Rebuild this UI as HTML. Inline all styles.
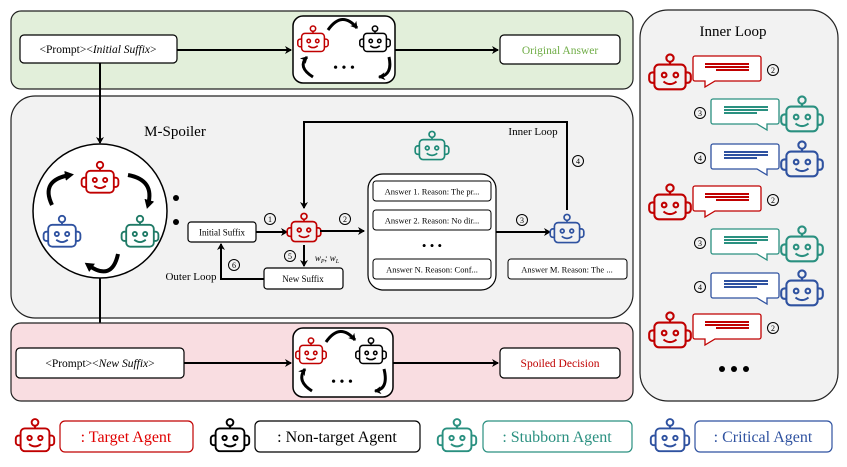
<!DOCTYPE html>
<html><head><meta charset="utf-8"><style>
html,body{margin:0;padding:0;background:#fff;}
svg{display:block;font-family:"Liberation Serif",serif;}
</style></head><body>
<svg width="847" height="467" viewBox="0 0 847 467" xmlns="http://www.w3.org/2000/svg">
<defs>
<g id="bot" fill="none" stroke-width="1.6">
<circle cx="0" cy="-13" r="2.8"/>
<line x1="0" y1="-10.2" x2="0" y2="-8"/>
<rect x="-12" y="-8" width="24" height="19" rx="3.5"/>
<path d="M-12,-2 h-1.5 a2.5,2.5 0 0 0 -2.5,2.5 v3 a2.5,2.5 0 0 0 2.5,2.5 h1.5"/>
<path d="M12,-2 h1.5 a2.5,2.5 0 0 1 2.5,2.5 v3 a2.5,2.5 0 0 1 -2.5,2.5 h-1.5"/>
<circle cx="-4.5" cy="0" r="1.8"/>
<circle cx="4.5" cy="0" r="1.8"/>
<path d="M-5,5 Q0,9 5,5"/>
</g>
<marker id="ah" markerWidth="8" markerHeight="8" refX="6" refY="4" orient="auto" markerUnits="userSpaceOnUse">
<path d="M0,0 L7,4 L0,8 L2,4 z" fill="#000"/>
</marker>
<marker id="ahb" markerWidth="10" markerHeight="10" refX="5" refY="5" orient="auto" markerUnits="userSpaceOnUse">
<path d="M0,0 L9,5 L0,10 z" fill="#000"/>
</marker>
</defs>

<!-- green region -->
<rect x="11" y="11" width="622" height="78" rx="10" fill="#e2efda" stroke="#222" stroke-width="1.2"/>
<rect x="20" y="35" width="157" height="28" rx="4" fill="#fff" stroke="#000" stroke-width="1.2"/>
<text x="98" y="53" font-size="11.5" text-anchor="middle">&lt;Prompt&gt;&lt;<tspan font-style="italic">Initial Suffix</tspan>&gt;</text>
<line x1="177" y1="50" x2="291" y2="50" stroke="#000" stroke-width="2" marker-end="url(#ah)"/>
<line x1="395" y1="50" x2="498" y2="50" stroke="#000" stroke-width="2" marker-end="url(#ah)"/>
<rect x="500" y="35" width="120" height="29" rx="4" fill="#fff" stroke="#000" stroke-width="1.2"/>
<text x="560" y="54" font-size="11.5" text-anchor="middle" fill="#70ad47">Original Answer</text>
<g>
<rect x="293" y="16" width="102" height="67" rx="10" fill="#fff" stroke="#000" stroke-width="1.5"/>
<use href="#bot" stroke="#c00000" transform="translate(313,41) scale(0.95)"/>
<use href="#bot" stroke="#000" transform="translate(375,41) scale(0.95)"/>
<path d="M328,30 Q342,10 357,28" fill="none" stroke="#000" stroke-width="3" marker-end="url(#ah)"/>
<path d="M313,77 Q297,67 307,57" fill="none" stroke="#000" stroke-width="3" marker-end="url(#ah)"/>
<path d="M389,57 Q393,75 379,77" fill="none" stroke="#000" stroke-width="3" marker-end="url(#ah)"/>
<text x="344" y="72" font-size="14" text-anchor="middle">• • •</text>
</g>

<!-- M-Spoiler region -->
<rect x="11" y="96" width="622" height="222" rx="24" fill="#f2f2f2" stroke="#222" stroke-width="1.2"/>
<line x1="100" y1="63" x2="100" y2="143" stroke="#000" stroke-width="2" marker-end="url(#ah)"/>
<line x1="100" y1="277" x2="100" y2="346" stroke="#000" stroke-width="2" marker-end="url(#ah)"/>
<circle cx="100" cy="211" r="67" fill="#fff" stroke="#000" stroke-width="1.5"/>
<use href="#bot" stroke="#c00000" transform="translate(100,180) scale(1.15)"/>
<use href="#bot" stroke="#2f52a0" transform="translate(62,234) scale(1.15)"/>
<use href="#bot" stroke="#1f7a66" transform="translate(140,234) scale(1.15)"/>
<path d="M52,205 Q40,180 70,175" fill="none" stroke="#000" stroke-width="4" marker-end="url(#ahb)"/>
<path d="M128,175 Q155,180 148,205" fill="none" stroke="#000" stroke-width="4" marker-end="url(#ahb)"/>
<path d="M118,254 Q112,282 88,265" fill="none" stroke="#000" stroke-width="4" marker-end="url(#ahb)"/>
<text x="175" y="136" font-size="15" text-anchor="middle">M-Spoiler</text>
<circle cx="176" cy="198" r="3" fill="#000"/>
<circle cx="176" cy="222" r="3" fill="#000"/>

<rect x="188" y="222" width="68" height="20" rx="3" fill="#fff" stroke="#000" stroke-width="1.2"/>
<text x="222" y="235.5" font-size="9" text-anchor="middle">Initial Suffix</text>
<line x1="256" y1="232" x2="287" y2="232" stroke="#000" stroke-width="2" marker-end="url(#ah)"/>
<use href="#bot" stroke="#c00000" transform="translate(304,230) scale(1.05)"/>
<line x1="320" y1="231" x2="364" y2="231" stroke="#000" stroke-width="2" marker-end="url(#ah)"/>
<line x1="304" y1="245" x2="304" y2="266" stroke="#000" stroke-width="2" marker-end="url(#ah)"/>
<rect x="264" y="268" width="79" height="21" rx="3" fill="#fff" stroke="#000" stroke-width="1.2"/>
<text x="303" y="282" font-size="9" text-anchor="middle">New Suffix</text>
<polyline points="264,279 221,279 221,244" fill="none" stroke="#000" stroke-width="2" marker-end="url(#ah)"/>
<text x="191" y="280" font-size="11" text-anchor="middle">Outer Loop</text>
<text x="327" y="261" font-size="9" font-style="italic" text-anchor="middle">w<tspan font-size="6" dy="2">P</tspan><tspan dy="-2">; w</tspan><tspan font-size="6" dy="2">L</tspan></text>
<polyline points="567,210 567,122 304,122 304,208" fill="none" stroke="#000" stroke-width="2" marker-end="url(#ah)"/>
<text x="533" y="135" font-size="11" text-anchor="middle">Inner Loop</text>

<g font-size="8" text-anchor="middle" fill="none" stroke="#000" stroke-width="1">
<circle cx="270" cy="219" r="5.5"/><circle cx="345" cy="219" r="5.5"/><circle cx="522" cy="220" r="5.5"/>
<circle cx="578" cy="161" r="5.5"/><circle cx="290" cy="256" r="5.5"/><circle cx="234" cy="265" r="5.5"/>
</g>
<g font-size="8" text-anchor="middle">
<text x="270" y="222">1</text><text x="345" y="222">2</text><text x="522" y="223">3</text>
<text x="578" y="164">4</text><text x="290" y="259">5</text><text x="234" y="268">6</text>
</g>

<use href="#bot" stroke="#1f8a78" transform="translate(432,148) scale(1.05)"/>
<rect x="368" y="174" width="128" height="116" rx="15" fill="#fff" stroke="#000" stroke-width="1.2"/>
<g font-size="8.5">
<rect x="373" y="181" width="118" height="20" rx="3" fill="#fff" stroke="#000"/>
<text x="432" y="194.5" text-anchor="middle">Answer 1. Reason: The pr...</text>
<rect x="373" y="210" width="118" height="20" rx="3" fill="#fff" stroke="#000"/>
<text x="432" y="223.5" text-anchor="middle">Answer 2. Reason: No dir...</text>
<rect x="373" y="259" width="118" height="20" rx="3" fill="#fff" stroke="#000"/>
<text x="432" y="272.5" text-anchor="middle">Answer N. Reason:  Conf...</text>
<rect x="508" y="259" width="119" height="20" rx="3" fill="#fff" stroke="#000"/>
<text x="567" y="272.5" text-anchor="middle">Answer M. Reason: The ...</text>
</g>
<text x="432" y="250" font-size="13" text-anchor="middle">• • •</text>
<line x1="496" y1="232" x2="550" y2="232" stroke="#000" stroke-width="2" marker-end="url(#ah)"/>
<use href="#bot" stroke="#2f52a0" transform="translate(567,231) scale(1.05)"/>

<!-- pink region -->
<rect x="11" y="323" width="622" height="78" rx="10" fill="#f9dde1" stroke="#222" stroke-width="1.2"/>
<rect x="16" y="348" width="168" height="30" rx="4" fill="#fff" stroke="#000" stroke-width="1.2"/>
<text x="100" y="367" font-size="11.5" text-anchor="middle">&lt;Prompt&gt;&lt;<tspan font-style="italic">New Suffix</tspan>&gt;</text>
<line x1="184" y1="363" x2="291" y2="363" stroke="#000" stroke-width="2" marker-end="url(#ah)"/>
<line x1="393" y1="363" x2="498" y2="363" stroke="#000" stroke-width="2" marker-end="url(#ah)"/>
<rect x="500" y="348" width="120" height="30" rx="4" fill="#fff" stroke="#000" stroke-width="1.2"/>
<text x="560" y="367" font-size="11.5" text-anchor="middle" fill="#c00000">Spoiled Decision</text>
<g>
<rect x="293" y="328" width="100" height="69" rx="10" fill="#fff" stroke="#000" stroke-width="1.5"/>
<use href="#bot" stroke="#c00000" transform="translate(311,353) scale(0.95)"/>
<use href="#bot" stroke="#000" transform="translate(371,353) scale(0.95)"/>
<path d="M326,342 Q340,322 355,340" fill="none" stroke="#000" stroke-width="3" marker-end="url(#ah)"/>
<path d="M312,391 Q296,381 305,369" fill="none" stroke="#000" stroke-width="3" marker-end="url(#ah)"/>
<path d="M384,369 Q389,389 375,391" fill="none" stroke="#000" stroke-width="3" marker-end="url(#ah)"/>
<text x="342" y="386" font-size="14" text-anchor="middle">• • •</text>
</g>

<!-- right panel -->
<rect x="640" y="10" width="198" height="391" rx="28" fill="#f2f2f2" stroke="#222" stroke-width="1.2"/>
<text x="733" y="36" font-size="15" text-anchor="middle">Inner Loop</text>

<g stroke-width="1.3">
<g transform="translate(0,0)">
<use href="#bot" stroke="#c00000" transform="translate(670,75) scale(1.3)"/>
<path d="M695,56 h64 a2,2 0 0 1 2,2 v21 a2,2 0 0 1 -2,2 h-44 l-10,6 v-6 h-10 a2,2 0 0 1 -2,-2 v-21 a2,2 0 0 1 2,-2z" fill="#fff" stroke="#c00000"/>
<rect x="705" y="63" width="44" height="2" fill="#c00000"/><rect x="705" y="66" width="44" height="2" fill="#c00000"/><rect x="716" y="69" width="33" height="2" fill="#c00000"/>
<circle cx="773" cy="70" r="5.5" fill="none" stroke="#000" stroke-width="1"/><text x="773" y="73" font-size="8" text-anchor="middle">2</text>
</g>
<g transform="translate(0,130)">
<use href="#bot" stroke="#c00000" transform="translate(670,75) scale(1.3)"/>
<path d="M695,56 h64 a2,2 0 0 1 2,2 v21 a2,2 0 0 1 -2,2 h-44 l-10,6 v-6 h-10 a2,2 0 0 1 -2,-2 v-21 a2,2 0 0 1 2,-2z" fill="#fff" stroke="#c00000"/>
<rect x="705" y="63" width="44" height="2" fill="#c00000"/><rect x="705" y="66" width="44" height="2" fill="#c00000"/><rect x="716" y="69" width="33" height="2" fill="#c00000"/>
<circle cx="773" cy="70" r="5.5" fill="none" stroke="#000" stroke-width="1"/><text x="773" y="73" font-size="8" text-anchor="middle">2</text>
</g>
<g transform="translate(0,258)">
<use href="#bot" stroke="#c00000" transform="translate(670,75) scale(1.3)"/>
<path d="M695,56 h64 a2,2 0 0 1 2,2 v21 a2,2 0 0 1 -2,2 h-44 l-10,6 v-6 h-10 a2,2 0 0 1 -2,-2 v-21 a2,2 0 0 1 2,-2z" fill="#fff" stroke="#c00000"/>
<rect x="705" y="63" width="44" height="2" fill="#c00000"/><rect x="705" y="66" width="44" height="2" fill="#c00000"/><rect x="716" y="69" width="33" height="2" fill="#c00000"/>
<circle cx="773" cy="70" r="5.5" fill="none" stroke="#000" stroke-width="1"/><text x="773" y="73" font-size="8" text-anchor="middle">2</text>
</g>
<g transform="translate(0,0)">
<use href="#bot" stroke="#2a9080" transform="translate(802,117) scale(1.3)"/>
<path d="M713,99 h64 a2,2 0 0 1 2,2 v21 a2,2 0 0 1 -2,2 h-10 v6 l-10,-6 h-44 a2,2 0 0 1 -2,-2 v-21 a2,2 0 0 1 2,-2z" fill="#fff" stroke="#2a9080"/>
<rect x="724" y="106" width="44" height="2" fill="#2a9080"/><rect x="724" y="109" width="44" height="2" fill="#2a9080"/><rect x="724" y="112" width="33" height="2" fill="#2a9080"/>
<circle cx="700" cy="113" r="5.5" fill="none" stroke="#000" stroke-width="1"/><text x="700" y="116" font-size="8" text-anchor="middle">3</text>
</g>
<g transform="translate(0,130)">
<use href="#bot" stroke="#2a9080" transform="translate(802,117) scale(1.3)"/>
<path d="M713,99 h64 a2,2 0 0 1 2,2 v21 a2,2 0 0 1 -2,2 h-10 v6 l-10,-6 h-44 a2,2 0 0 1 -2,-2 v-21 a2,2 0 0 1 2,-2z" fill="#fff" stroke="#2a9080"/>
<rect x="724" y="106" width="44" height="2" fill="#2a9080"/><rect x="724" y="109" width="44" height="2" fill="#2a9080"/><rect x="724" y="112" width="33" height="2" fill="#2a9080"/>
<circle cx="700" cy="113" r="5.5" fill="none" stroke="#000" stroke-width="1"/><text x="700" y="116" font-size="8" text-anchor="middle">3</text>
</g>
<g transform="translate(0,0)">
<use href="#bot" stroke="#2f52a0" transform="translate(802,162) scale(1.3)"/>
<path d="M713,144 h64 a2,2 0 0 1 2,2 v21 a2,2 0 0 1 -2,2 h-10 v6 l-10,-6 h-44 a2,2 0 0 1 -2,-2 v-21 a2,2 0 0 1 2,-2z" fill="#fff" stroke="#2f52a0"/>
<rect x="724" y="151" width="44" height="2" fill="#2f52a0"/><rect x="724" y="154" width="44" height="2" fill="#2f52a0"/><rect x="724" y="157" width="33" height="2" fill="#2f52a0"/>
<circle cx="700" cy="158" r="5.5" fill="none" stroke="#000" stroke-width="1"/><text x="700" y="161" font-size="8" text-anchor="middle">4</text>
</g>
<g transform="translate(0,129)">
<use href="#bot" stroke="#2f52a0" transform="translate(802,162) scale(1.3)"/>
<path d="M713,144 h64 a2,2 0 0 1 2,2 v21 a2,2 0 0 1 -2,2 h-10 v6 l-10,-6 h-44 a2,2 0 0 1 -2,-2 v-21 a2,2 0 0 1 2,-2z" fill="#fff" stroke="#2f52a0"/>
<rect x="724" y="151" width="44" height="2" fill="#2f52a0"/><rect x="724" y="154" width="44" height="2" fill="#2f52a0"/><rect x="724" y="157" width="33" height="2" fill="#2f52a0"/>
<circle cx="700" cy="158" r="5.5" fill="none" stroke="#000" stroke-width="1"/><text x="700" y="161" font-size="8" text-anchor="middle">4</text>
</g>
</g>
<circle cx="722" cy="369" r="3" fill="#000"/><circle cx="734" cy="369" r="3" fill="#000"/><circle cx="746" cy="369" r="3" fill="#000"/>

<!-- legend -->
<g font-size="16">
<use href="#bot" stroke="#c00000" transform="translate(35,438) scale(1.2)"/>
<rect x="60" y="421" width="133" height="31" rx="5" fill="#fff" stroke="#c00000" stroke-width="1.2"/>
<text x="126" y="442" text-anchor="middle" fill="#e00000">: Target Agent</text>
<use href="#bot" stroke="#000" transform="translate(230,438) scale(1.2)"/>
<rect x="255" y="421" width="165" height="31" rx="5" fill="#fff" stroke="#000" stroke-width="1.2"/>
<text x="337" y="442" text-anchor="middle">: Non-target Agent</text>
<use href="#bot" stroke="#2a9080" transform="translate(457,438) scale(1.2)"/>
<rect x="483" y="421" width="149" height="31" rx="5" fill="#fff" stroke="#2a9080" stroke-width="1.2"/>
<text x="557" y="442" text-anchor="middle" fill="#2a9080">: Stubborn Agent</text>
<use href="#bot" stroke="#2f52a0" transform="translate(670,438) scale(1.2)"/>
<rect x="695" y="421" width="137" height="31" rx="5" fill="#fff" stroke="#2f52a0" stroke-width="1.2"/>
<text x="763" y="442" text-anchor="middle" fill="#2f52a0">: Critical Agent</text>
</g>
</svg>
</body></html>
